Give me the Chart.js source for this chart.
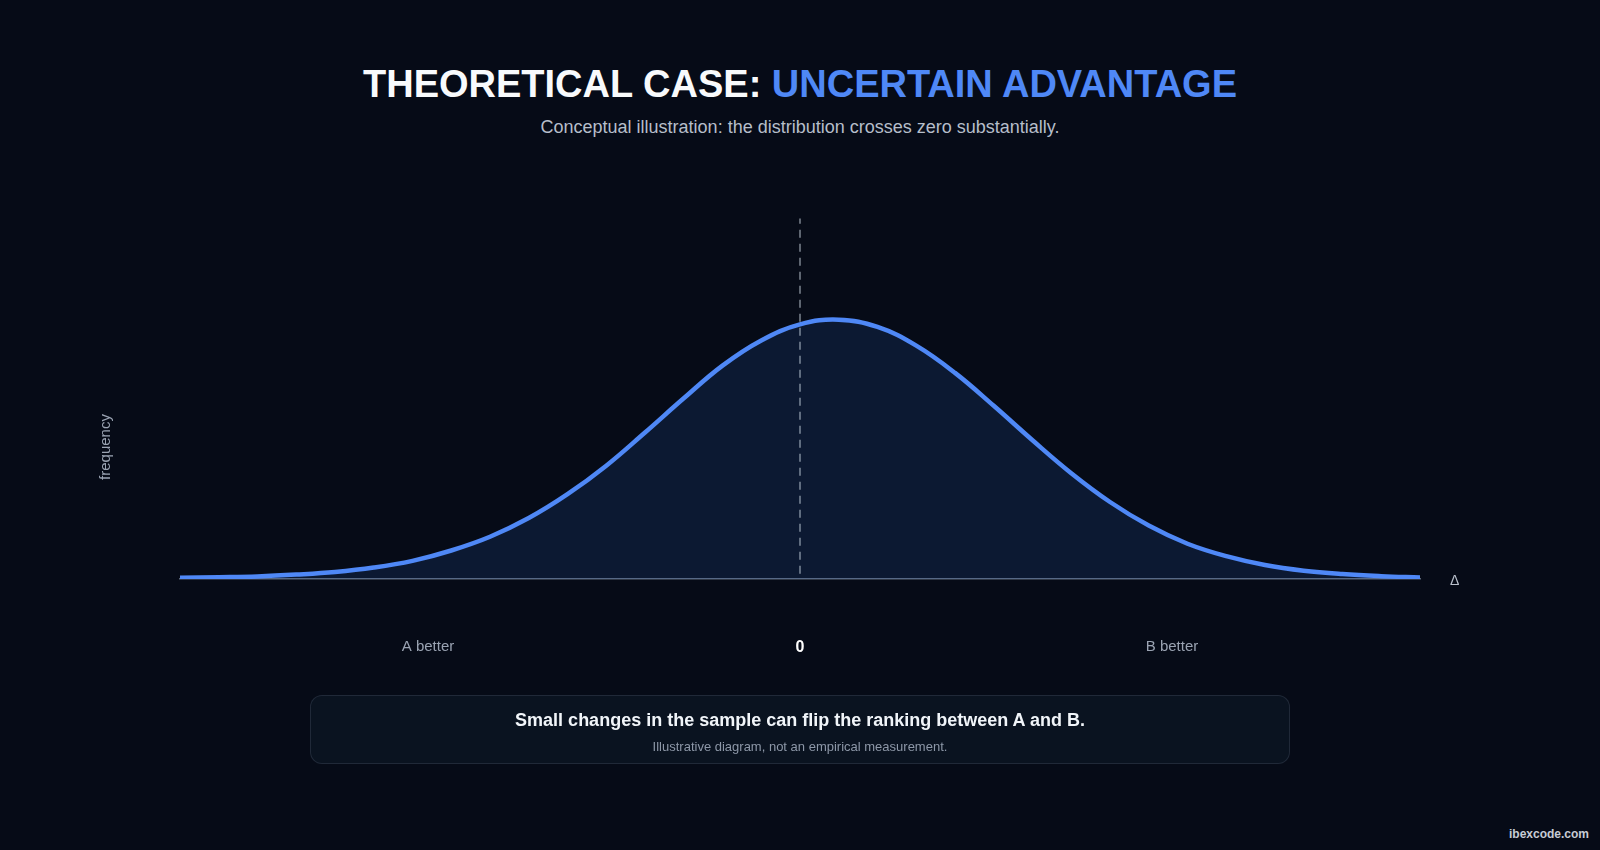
<!DOCTYPE html>
<html>
<head>
<meta charset="utf-8">
<script src="https://cdn.jsdelivr.net/npm/chart.js@4.4.1/dist/chart.umd.min.js"></script>
<style>
  html, body { margin: 0; padding: 0; }
  body {
    width: 1600px; height: 850px; background: #060b17; position: relative; overflow: hidden;
    font-family: "Liberation Sans", Arial, Helvetica, sans-serif;
  }
  h1 {
    position: absolute; top: 58px; left: 0; width: 1600px; margin: 0; text-align: center;
    font-size: 38px; font-weight: 700; line-height: 52px; color: #f8fafc;
  }
  h1 span { color: #4f88f6; }
  .sub {
    position: absolute; top: 116px; left: 0; width: 1600px; text-align: center;
    font-size: 18px; line-height: 22px; color: #b6beca;
  }
  #wrap { position: absolute; left: 0; top: 0; width: 1600px; height: 700px; }
  .note {
    position: absolute; left: 310px; top: 695px; width: 978px; height: 67px;
    border: 1px solid rgba(148,163,184,0.16); border-radius: 12px; background: #0a1320; text-align: center;
  }
  .note b { display: block; margin-top: 14px; font-size: 18px; line-height: 21px; color: #f1f5f9; }
  .note small { display: block; margin-top: 8px; font-size: 13px; line-height: 15px; color: #8d97a7; }
  .mark { position: absolute; right: 11px; bottom: 9px; font-size: 12px; line-height: 13px; font-weight: 700; color: #c7ccd5; }
</style>
</head>
<body>
<h1>THEORETICAL CASE: <span>UNCERTAIN ADVANTAGE</span></h1>
<div class="sub">Conceptual illustration: the distribution crosses zero substantially.</div>
<div id="wrap"><canvas id="chart"></canvas></div>
<div class="note">
  <b>Small changes in the sample can flip the ranking between A and B.</b>
  <small>Illustrative diagram, not an empirical measurement.</small>
</div>
<div class="mark">ibexcode.com</div>

<script>
// difference between A and B (x) and relative frequency
const delta = [-4, -3.75, -3.5, -3.25, -3, -2.75, -2.5, -2.25, -2, -1.75, -1.5, -1.25, -1, -0.75, -0.5, -0.25,
               0, 0.25, 0.5, 0.75, 1, 1.25, 1.5, 1.75, 2, 2.25, 2.5, 2.75, 3, 3.25, 3.5, 3.75, 4];
const frequency = [0.005, 0.007, 0.010, 0.017, 0.027, 0.044, 0.070, 0.110, 0.163, 0.235, 0.327, 0.437, 0.565, 0.697, 0.823, 0.920,
                   0.982, 1.000, 0.972, 0.900, 0.795, 0.668, 0.535, 0.408, 0.297, 0.206, 0.136, 0.088, 0.054, 0.032, 0.019, 0.011, 0.006];

const tickValues = [-2.4, 0, 2.4];
const tickLabels = ["A better", "0", "B better"];

const zeroLine = [0, 0];
const zeroLineSpan = [0.02, 1.39];

const axisEndLabel = "\u0394";
const yTitle = "frequency";

const blue = "#4f88f6";
const fontFamily = '"Liberation Sans", Arial, Helvetica, sans-serif';

const extraText = {
    id: "extraText",
    afterDraw(chart) {
        const { ctx, chartArea, scales } = chart;
        ctx.save();
        ctx.fillStyle = "#b9c1cc";
        ctx.font = "14px " + fontFamily;
        ctx.textAlign = "left";
        ctx.textBaseline = "middle";
        ctx.fillText(axisEndLabel, chartArea.right + 30, scales.y.getPixelForValue(0) + 2);

        ctx.translate(106, 447);
        ctx.rotate(-Math.PI / 2);
        ctx.textAlign = "center";
        ctx.fillStyle = "#9aa3b2";
        ctx.font = "15px " + fontFamily;
        ctx.fillText(yTitle, 0, 0);
        ctx.restore();
    }
};

new Chart(document.getElementById("chart"), {
    type: "line",
    data: {
        datasets: [
            {
                label: "zero",
                data: zeroLine.map((x, i) => ({ x: x, y: zeroLineSpan[i] })),
                borderColor: "rgba(203,213,225,0.6)",
                borderWidth: 1.5,
                borderDash: [8, 6],
                pointRadius: 0,
                fill: false
            },
            {
                label: "distribution",
                data: delta.map((x, i) => ({ x: x, y: frequency[i] })),
                borderColor: blue,
                borderWidth: 4.5,
                backgroundColor: "rgba(59,130,246,0.12)",
                fill: "origin",
                pointRadius: 0,
                tension: 0.4
            }
        ]
    },
    options: {
        responsive: true,
        maintainAspectRatio: false,
        animation: false,
        layout: { padding: { left: 180, right: 180, top: 216, bottom: 0 } },
        scales: {
            x: {
                type: "linear",
                min: -4,
                max: 4,
                grid: { display: false },
                border: { display: true, color: "rgba(148,163,184,0.6)", width: 1.5 },
                afterBuildTicks: (scale) => { scale.ticks = tickValues.map(v => ({ value: v })); },
                afterFit: (scale) => { scale.height = 121; },
                ticks: {
                    autoSkip: false,
                    maxRotation: 0,
                    padding: 51,
                    callback: (value, index) => tickLabels[index],
                    color: (ctx) => ctx.index === 1 ? "#ffffff" : "#9aa3b2",
                    font: (ctx) => ctx.index === 1
                        ? { family: fontFamily, size: 16, weight: "bold" }
                        : { family: fontFamily, size: 15 }
                }
            },
            y: {
                display: false,
                min: 0,
                max: 1.4
            }
        },
        plugins: {
            legend: { display: false },
            tooltip: { enabled: false }
        }
    },
    plugins: [extraText]
});
</script>
</body>
</html>
